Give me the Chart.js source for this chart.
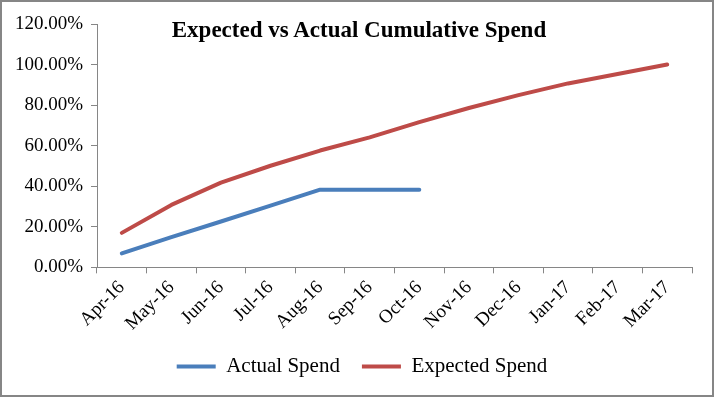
<!DOCTYPE html>
<html>
<head>
<meta charset="utf-8">
<script src="https://cdn.jsdelivr.net/npm/chart.js@4/dist/chart.umd.min.js"></script>
<style>
  html, body { margin: 0; padding: 0; background: #fff; }
  #wrap { position: relative; width: 710px; height: 393px; border: 2px solid #868686; background: #fff; }
  #title { position: absolute; left: 0; width: 714px; top: 15px; text-align: center;
           font-family: 'Liberation Serif', 'Times New Roman', serif; font-weight: bold; font-size: 23px; color: #000; }
  canvas { display: block; }
</style>
</head>
<body>
<div id="wrap">
  <canvas id="c" width="710" height="393"></canvas>
  <div id="title">Expected vs Actual Cumulative Spend</div>
</div>
<script>
const categories = ['Apr-16','May-16','Jun-16','Jul-16','Aug-16','Sep-16','Oct-16','Nov-16','Dec-16','Jan-17','Feb-17','Mar-17'];
const actualSpend = [0.069, 0.149, 0.226, 0.304, 0.383, 0.383, 0.383, null, null, null, null, null];
const expectedSpend = [0.170, 0.308, 0.418, 0.501, 0.576, 0.641, 0.716, 0.786, 0.849, 0.907, 0.953, 1.000];
const seriesNames = ['Actual Spend', 'Expected Spend'];
const seriesColors = ['#4A7EBB', '#BE4B48'];

const FONT = "'Liberation Serif', 'Times New Roman', serif";

const legendShift = {
  id: 'legendShift',
  afterLayout(chart) {
    const l = chart.legend;
    if (!l) return;
    l.left += 15; l.right += 15;
    l.top -= 4; l.bottom -= 4;
  }
};

new Chart(document.getElementById('c'), {
  type: 'line',
  data: {
    labels: categories,
    datasets: [
      { label: seriesNames[0], data: actualSpend, borderColor: seriesColors[0], backgroundColor: seriesColors[0],
        borderWidth: 4, pointRadius: 0, tension: 0, spanGaps: false, borderCapStyle: 'round', borderJoinStyle: 'round' },
      { label: seriesNames[1], data: expectedSpend, borderColor: seriesColors[1], backgroundColor: seriesColors[1],
        borderWidth: 4, pointRadius: 0, tension: 0, borderCapStyle: 'round', borderJoinStyle: 'round' }
    ]
  },
  plugins: [legendShift],
  options: {
    responsive: false,
    animation: false,
    layout: { padding: { top: 22, right: 20, left: 0, bottom: 4 } },
    plugins: {
      title: { display: false },
      tooltip: { enabled: false },
      legend: {
        position: 'bottom',
        labels: {
          font: { family: FONT, size: 21 },
          color: '#000',
          boxWidth: 39,
          boxHeight: 4,
          padding: 22,
          generateLabels(chart) {
            return Chart.defaults.plugins.legend.labels.generateLabels(chart).map(l => Object.assign(l, { lineWidth: 0 }));
          }
        }
      }
    },
    scales: {
      x: {
        offset: true,
        grid: { display: true, drawOnChartArea: false, drawTicks: true, tickLength: 6, color: '#868686', offset: true },
        border: { color: '#868686', width: 1 },
        ticks: { font: { family: FONT, size: 19 }, color: '#000', minRotation: 45, maxRotation: 45, padding: 3, autoSkip: false }
      },
      y: {
        min: 0, max: 1.2,
        afterFit(scale) { scale.width = 95; },
        grid: { display: true, drawOnChartArea: false, drawTicks: true, tickLength: 6, color: '#868686' },
        border: { color: '#868686', width: 1 },
        ticks: {
          stepSize: 0.2,
          font: { family: FONT, size: 19 },
          color: '#000',
          padding: 8,
          callback: v => (v * 100).toFixed(2) + '%'
        }
      }
    }
  }
});
</script>
</body>
</html>
